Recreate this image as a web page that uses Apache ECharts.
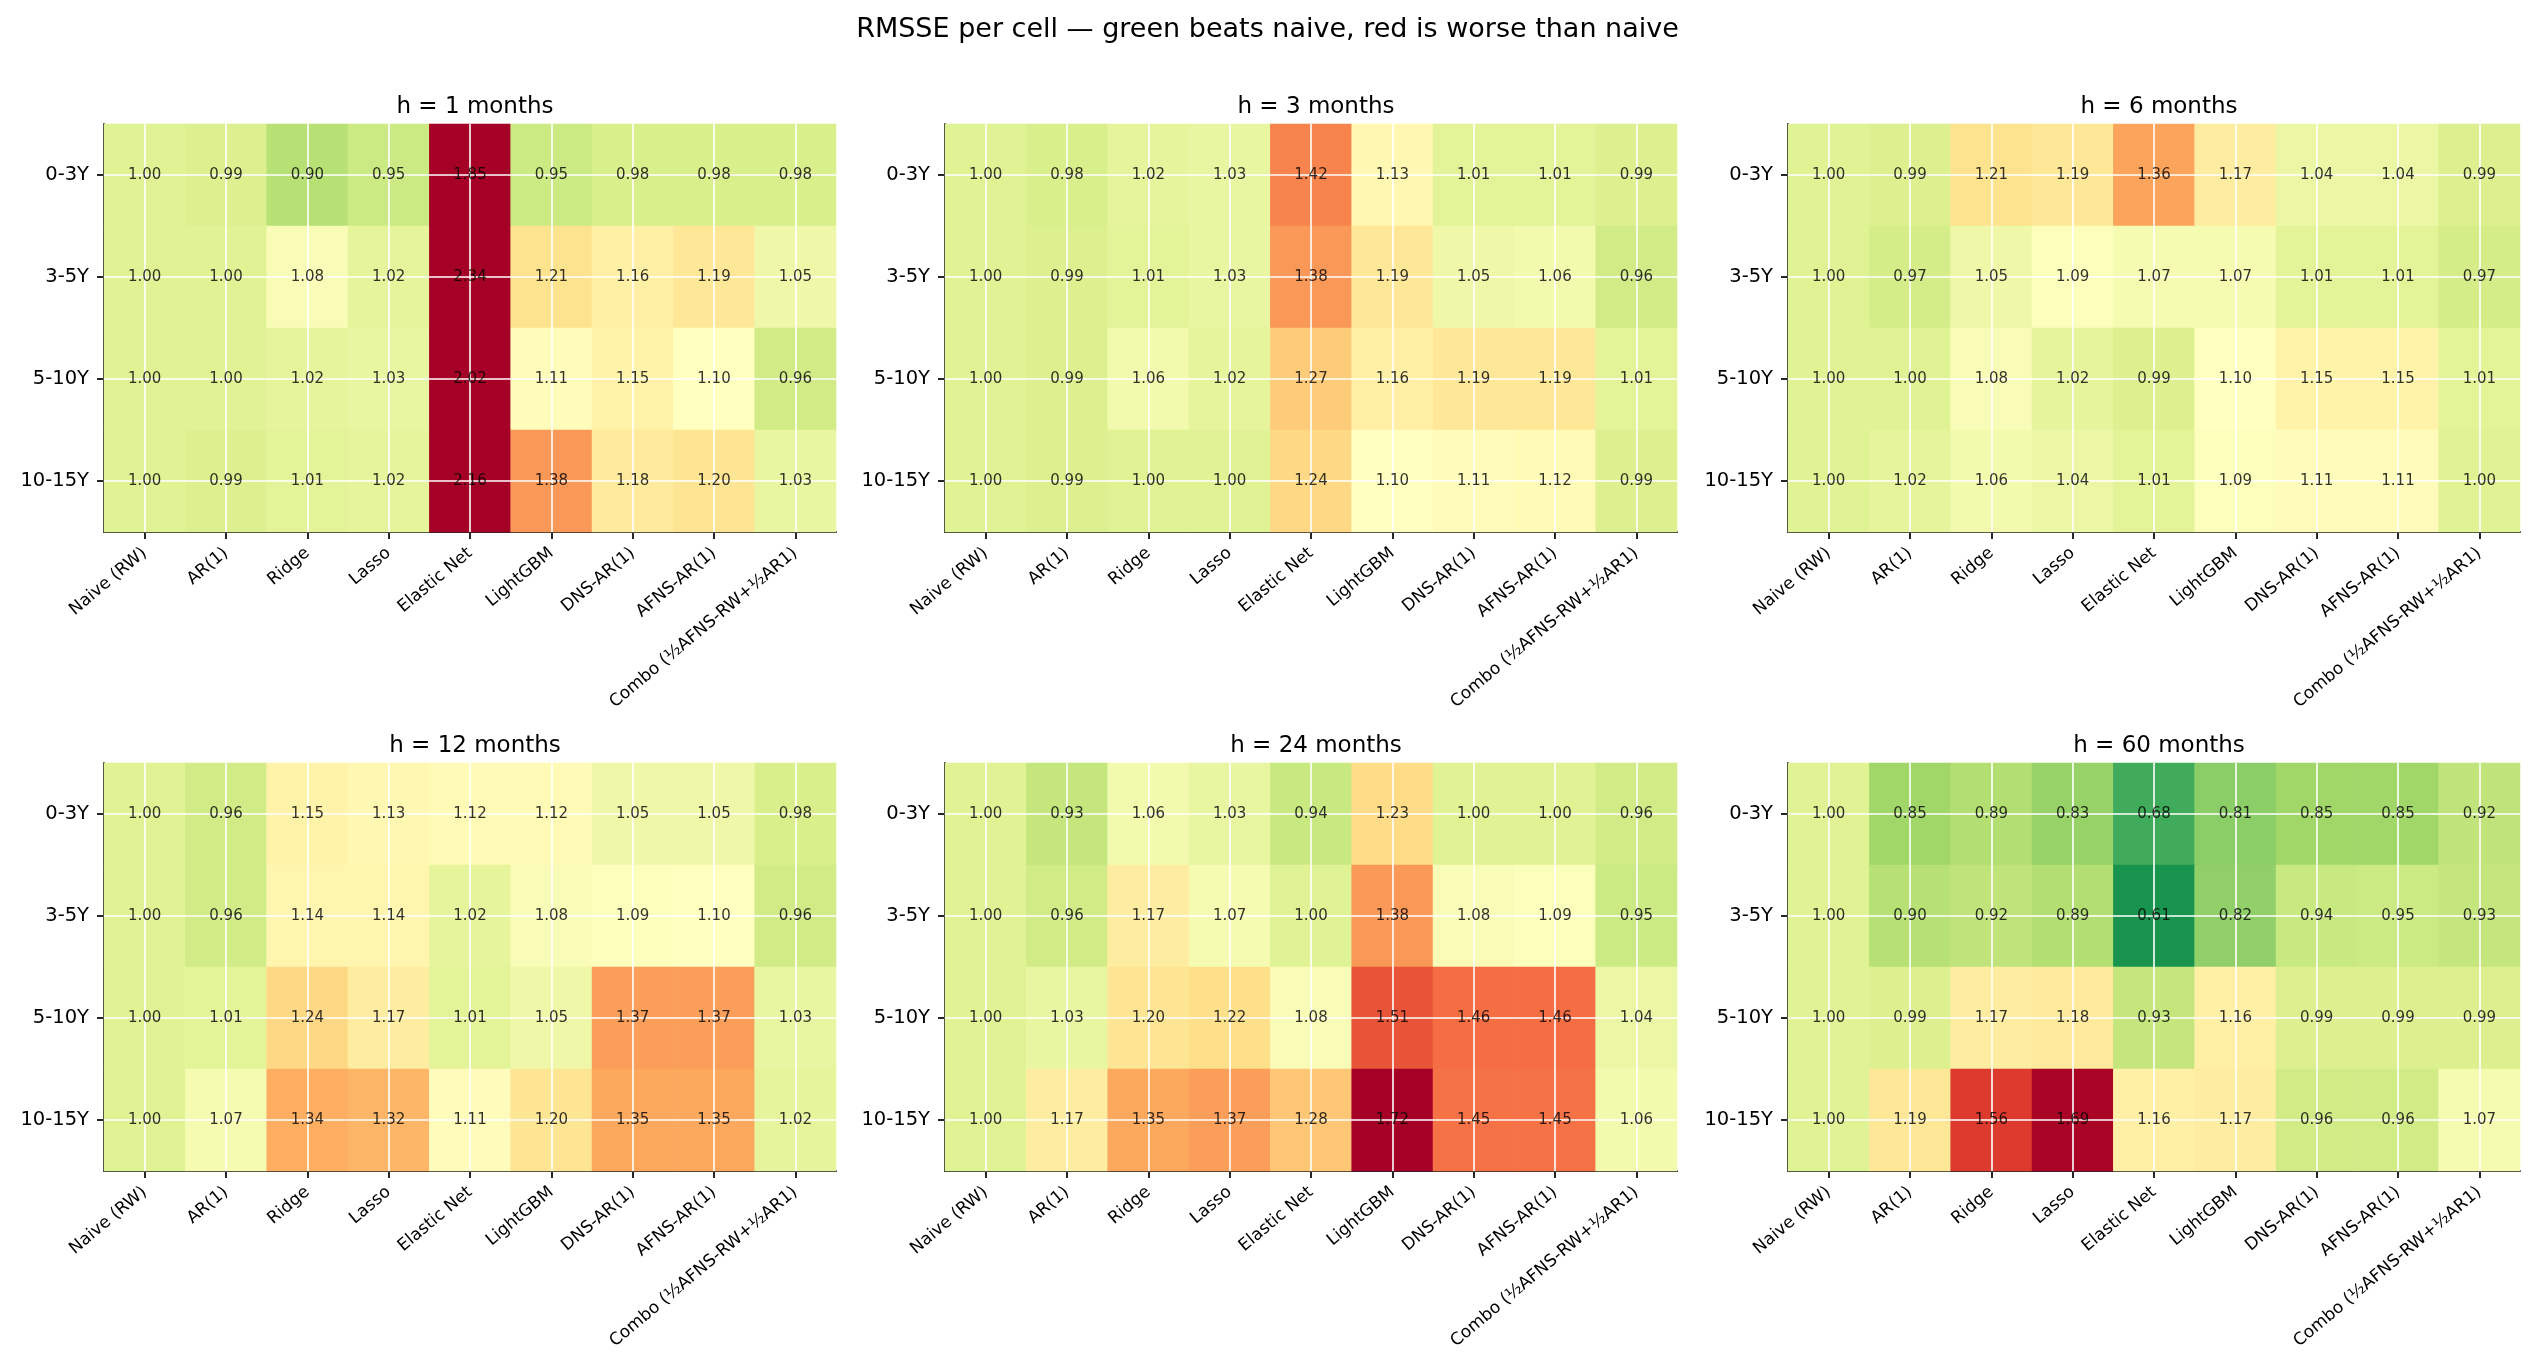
<!DOCTYPE html>
<html>
<head>
<meta charset="utf-8">
<script src="https://cdn.jsdelivr.net/npm/echarts@6/dist/echarts.min.js"></script>
<style>
html,body{margin:0;padding:0;background:#fff;}
#chart{width:2535px;height:1365px;}
</style>
</head>
<body>
<div id="chart"></div>
<script>
// ---- data ----
const models = ["Naive (RW)", "AR(1)", "Ridge", "Lasso", "Elastic Net", "LightGBM", "DNS-AR(1)", "AFNS-AR(1)", "Combo (½AFNS-RW+½AR1)"];
const buckets = ["0-3Y", "3-5Y", "5-10Y", "10-15Y"];
const horizons = [1, 3, 6, 12, 24, 60];

const h1 = [
  [1.00, 0.99, 0.90, 0.95, 1.85, 0.95, 0.98, 0.98, 0.98],
  [1.00, 1.00, 1.08, 1.02, 2.34, 1.21, 1.16, 1.19, 1.05],
  [1.00, 1.00, 1.02, 1.03, 2.02, 1.11, 1.15, 1.10, 0.96],
  [1.00, 0.99, 1.01, 1.02, 2.16, 1.38, 1.18, 1.20, 1.03]
];
const h3 = [
  [1.00, 0.98, 1.02, 1.03, 1.42, 1.13, 1.01, 1.01, 0.99],
  [1.00, 0.99, 1.01, 1.03, 1.38, 1.19, 1.05, 1.06, 0.96],
  [1.00, 0.99, 1.06, 1.02, 1.27, 1.16, 1.19, 1.19, 1.01],
  [1.00, 0.99, 1.00, 1.00, 1.24, 1.10, 1.11, 1.12, 0.99]
];
const h6 = [
  [1.00, 0.99, 1.21, 1.19, 1.36, 1.17, 1.04, 1.04, 0.99],
  [1.00, 0.97, 1.05, 1.09, 1.07, 1.07, 1.01, 1.01, 0.97],
  [1.00, 1.00, 1.08, 1.02, 0.99, 1.10, 1.15, 1.15, 1.01],
  [1.00, 1.02, 1.06, 1.04, 1.01, 1.09, 1.11, 1.11, 1.00]
];
const h12 = [
  [1.00, 0.96, 1.15, 1.13, 1.12, 1.12, 1.05, 1.05, 0.98],
  [1.00, 0.96, 1.14, 1.14, 1.02, 1.08, 1.09, 1.10, 0.96],
  [1.00, 1.01, 1.24, 1.17, 1.01, 1.05, 1.37, 1.37, 1.03],
  [1.00, 1.07, 1.34, 1.32, 1.11, 1.20, 1.35, 1.35, 1.02]
];
const h24 = [
  [1.00, 0.93, 1.06, 1.03, 0.94, 1.23, 1.00, 1.00, 0.96],
  [1.00, 0.96, 1.17, 1.07, 1.00, 1.38, 1.08, 1.09, 0.95],
  [1.00, 1.03, 1.20, 1.22, 1.08, 1.51, 1.46, 1.46, 1.04],
  [1.00, 1.17, 1.35, 1.37, 1.28, 1.72, 1.45, 1.45, 1.06]
];
const h60 = [
  [1.00, 0.85, 0.89, 0.83, 0.68, 0.81, 0.85, 0.85, 0.92],
  [1.00, 0.90, 0.92, 0.89, 0.61, 0.82, 0.94, 0.95, 0.93],
  [1.00, 0.99, 1.17, 1.18, 0.93, 1.16, 0.99, 0.99, 0.99],
  [1.00, 1.19, 1.56, 1.69, 1.16, 1.17, 0.96, 0.96, 1.07]
];
const panels = [h1, h3, h6, h12, h24, h60];

// ---- colour scale (RdYlGn reversed, 0.5 .. 1.7, clipped above) ----
const rdylgnR = ["#006837", "#1a9850", "#66bd63", "#a6d96a", "#d9ef8b", "#ffffbf",
                 "#fee08b", "#fdae61", "#f46d43", "#d73027", "#a50026"];
const cMin = 0.5, cStep = 0.12;
const colorStops = rdylgnR.concat(["#a50026", "#a50026", "#a50026", "#a50026", "#a50026", "#a50026"]);
const cMax = cMin + cStep * (colorStops.length - 1);

// ---- layout ----
const lefts = [104, 945, 1788];
const tops = [124, 763];
const gw = 732, gh = 408;
const FONT = "DejaVu Sans";

const grids = [], xAxes = [], yAxes = [], series = [], titles = [], heatIdx = [];
titles.push({
  text: "RMSSE per cell \u2014 green beats naive, red is worse than naive",
  left: "center", top: 11,
  textStyle: {fontFamily: FONT, fontSize: 27, fontWeight: "normal", color: "#000"}
});

panels.forEach((mat, p) => {
  const col = p % 3, row = Math.floor(p / 3);
  grids.push({left: lefts[col], top: tops[row], width: gw, height: gh, containLabel: false});
  titles.push({
    text: "h = " + horizons[p] + " months",
    left: lefts[col] + gw / 2, top: tops[row] - 33, textAlign: "center",
    textStyle: {fontFamily: FONT, fontSize: 23, fontWeight: "normal", color: "#000"}
  });
  xAxes.push({
    type: "category", gridIndex: p, data: models, position: "bottom",
    axisLine: {show: true, lineStyle: {color: "#262626", width: 2}},
    axisTick: {show: true, alignWithLabel: true, length: 7, lineStyle: {color: "#262626", width: 2}},
    axisLabel: {rotate: 40, fontFamily: FONT, fontSize: 17, color: "#000", margin: 19, interval: 0},
    splitLine: {show: false}
  });
  yAxes.push({
    type: "category", gridIndex: p, data: buckets, inverse: true,
    axisLine: {show: true, lineStyle: {color: "#262626", width: 2}},
    axisTick: {show: true, alignWithLabel: true, length: 7, lineStyle: {color: "#262626", width: 2}},
    axisLabel: {fontFamily: FONT, fontSize: 19.5, color: "#000", margin: 15},
    splitLine: {show: false}
  });
  const data = [];
  mat.forEach((r, yi) => r.forEach((v, xi) => data.push([xi, yi, v])));
  const lines = models.map(m => ({xAxis: m})).concat(buckets.map(b => ({yAxis: b})));
  heatIdx.push(series.length);
  series.push({
    type: "heatmap", xAxisIndex: p, yAxisIndex: p, data: data, z: 2,
    label: {show: false},
    emphasis: {disabled: true},
    markLine: {
      silent: true, symbol: ["none", "none"], animation: false, z: 3,
      label: {show: false},
      lineStyle: {color: "#ffffff", width: 1.6, type: "solid", opacity: 1},
      data: lines
    }
  });
  // value annotations drawn above the grid lines
  series.push({
    type: "scatter", xAxisIndex: p, yAxisIndex: p, data: data, z: 6,
    symbol: "circle", symbolSize: 1, itemStyle: {color: "rgba(0,0,0,0)"}, silent: true,
    label: {show: true, position: "inside", fontFamily: FONT, fontSize: 15, color: "#000",
            formatter: (d) => d.value[2].toFixed(2)},
    emphasis: {disabled: true}
  });
});

const chart = echarts.init(document.getElementById("chart"), null, {renderer: "canvas"});
chart.setOption({
  animation: false,
  backgroundColor: "#ffffff",
  title: titles,
  grid: grids,
  xAxis: xAxes,
  yAxis: yAxes,
  visualMap: {
    type: "continuous", show: false, dimension: 2,
    min: cMin, max: cMax, seriesIndex: heatIdx,
    inRange: {color: colorStops}
  },
  series: series
});
</script>
</body>
</html>
